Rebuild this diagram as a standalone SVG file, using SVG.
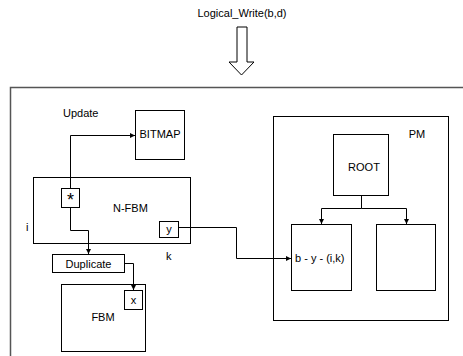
<svg xmlns="http://www.w3.org/2000/svg" width="463" height="356" viewBox="0 0 463 356">
<style>
.b{fill:#fff;stroke:#000;stroke-width:1}
.t{font-family:"Liberation Sans",Arial,sans-serif;font-size:11px;fill:#000}
.c{fill:none;stroke:#000;stroke-width:1}
</style>
<defs>
<marker id="a" viewBox="0 0 6 6" refX="6" refY="3" markerWidth="5" markerHeight="5" orient="auto" markerUnits="userSpaceOnUse">
<path d="M0,0L6,3L0,6z" fill="#000"/>
</marker>
</defs>
<rect width="463" height="356" fill="#fff"/>
<text class="t" x="242" y="17" text-anchor="middle">Logical_Write(b,d)</text>
<g id="bigarrow">
<path d="M237,27H247V62H254L241.5,75L229,62H237Z" fill="#fff" stroke="#000" stroke-width="1"/>
</g>
<g id="frame">
<path d="M10.5,356V87.5H463" fill="none" stroke="#555" stroke-width="1.5"/>
</g>
<text class="t" x="63" y="117">Update</text>
<g id="bitmap">
<rect class="b" x="135.5" y="110.5" width="49" height="49"/>
<text class="t" x="160" y="138" text-anchor="middle">BITMAP</text>
</g>
<g id="nfbm">
<rect class="b" x="33.5" y="177.5" width="157" height="66"/>
<text class="t" x="113" y="212">N-FBM</text>
</g>
<g id="star">
<rect class="b" x="61.5" y="188.5" width="18" height="19"/>
<text class="t" x="70.5" y="206" text-anchor="middle" style="font-size:18px">*</text>
</g>
<g id="ybox">
<rect class="b" x="159.5" y="221.5" width="19" height="16"/>
<text class="t" x="169" y="233" text-anchor="middle">y</text>
</g>
<text class="t" x="26" y="231">i</text>
<text class="t" x="166" y="260">k</text>
<g id="duplicate">
<rect class="b" x="52.5" y="254.5" width="72" height="18"/>
<text class="t" x="88.5" y="267.5" text-anchor="middle">Duplicate</text>
</g>
<g id="fbm">
<rect class="b" x="61.5" y="284.5" width="84" height="67"/>
<text class="t" x="103" y="321" text-anchor="middle">FBM</text>
</g>
<g id="xbox">
<rect class="b" x="124.5" y="290.5" width="18" height="19"/>
<text class="t" x="133.5" y="304" text-anchor="middle">x</text>
</g>
<g id="pm">
<rect class="b" x="273.5" y="116.5" width="175" height="204"/>
<text class="t" x="417" y="138" text-anchor="middle">PM</text>
</g>
<g id="root">
<rect class="b" x="333.5" y="134.5" width="55" height="61"/>
<text class="t" x="364" y="171" text-anchor="middle">ROOT</text>
</g>
<g id="leftchild">
<rect class="b" x="291.5" y="224.5" width="60" height="66"/>
<text class="t" x="295" y="262">b - y - (i,k)</text>
</g>
<g id="rightchild">
<rect class="b" x="376.5" y="224.5" width="59" height="66"/>
</g>
<g id="connectors">
<path class="c" d="M70.5,188V135.5H135" marker-end="url(#a)"/>
<path class="c" d="M70.5,208V230.5H88.5V254" marker-end="url(#a)"/>
<path class="c" d="M124.5,263.5H133.5V290" marker-end="url(#a)"/>
<path class="c" d="M178.5,227.5H236.5V258.5H291" marker-end="url(#a)"/>
<path class="c" d="M361.5,196V208.5H321.5V224" marker-end="url(#a)"/>
<path class="c" d="M361.5,208.5H406.5V224" marker-end="url(#a)"/>
</g>
</svg>
